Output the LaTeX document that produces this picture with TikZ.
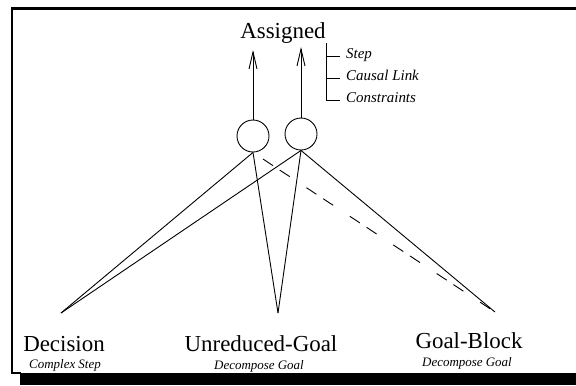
\documentclass[tikz,border=0pt]{standalone}
\usepackage{fontspec}
\setmainfont{Liberation Serif}
\usetikzlibrary{arrows.meta}
\begin{document}
\begin{tikzpicture}[x=1bp,y=-1bp,
  frameline/.style={line width=2.2bp},
  big/.style={font=\fontsize{23}{26}\selectfont, inner sep=0pt, anchor=base},
  sub/.style={font=\fontsize{13}{15}\selectfont\itshape, inner sep=0pt, anchor=base},
  legend/.style={font=\fontsize{15}{17}\selectfont\itshape, inner sep=0pt, anchor=mid west},
  slot/.style={circle, draw, line width=0.9bp, minimum size=32bp, inner sep=0pt},
  link/.style={line width=0.9bp},
  up/.style={line width=0.9bp, -{Straight Barb[length=17bp,width=8bp,line width=0.9bp]}}]
  \useasboundingbox (0,0) rectangle (576,385);
  % framed box with a drop shadow along the bottom
  \fill[black] (20,373) rectangle (576,385);
  \draw[frameline] (12,373) -- (12,8.5) -- (576,8.5);
  \draw[frameline] (11,373) -- (21,373);

  % labels
  \node[big] (assigned) at (283,38) {Assigned};
  \node[big] (decision) at (64,351) {Decision};
  \node[sub] (decsub) at (65,368) {Complex Step};
  \node[big] (unreduced) at (261,351) {Unreduced-Goal};
  \node[sub] (unsub) at (259,369) {Decompose Goal};
  \node[big] (goalblock) at (469,348) {Goal-Block};
  \node[sub] (gbsub) at (467,366) {Decompose Goal};

  % the two assignment slots
  \node[slot] (c1) at (253,136) {};
  \node[slot] (c2) at (301,134) {};
  \coordinate (t1) at (253,50);
  \coordinate (t2) at (301,47);
  \draw[up] (c1.north) -- (t1);
  \draw[up] (c2.north) -- (t2);

  % apexes above each label
  \coordinate (pd) at (61,313);
  \coordinate (pu) at (278,313);
  \coordinate (pg) at (495,312);

  \draw[link] (c1.south) -- (pd);
  \draw[link] (c1.south) -- (pu);
  \draw[link, dash pattern=on 0bp off 12bp on 12bp off 8bp on 12bp off 8bp] (c1.south) -- (pg);
  \draw[link] (c2.south) -- (pd);
  \draw[link] (c2.south) -- (pu);
  \draw[link] (c2.south) -- (pg);

  % legend bracket
  \coordinate (lt) at (326,43);
  \coordinate (lb) at (326,100);
  \coordinate (l1) at (340,56);
  \coordinate (l2) at (340,78);
  \coordinate (l3) at (340,100);
  \draw[line width=0.9bp] (lt) -- (lb) -- (l3);
  \draw[line width=0.9bp] (lt |- l1) -- (l1);
  \draw[line width=0.9bp] (lt |- l2) -- (l2);
  \node[legend] (step) at (346,56) {Step};
  \node[legend] (causal) at (346,78) {Causal Link};
  \node[legend] (constr) at (346,100) {Constraints};
\end{tikzpicture}
\end{document}
